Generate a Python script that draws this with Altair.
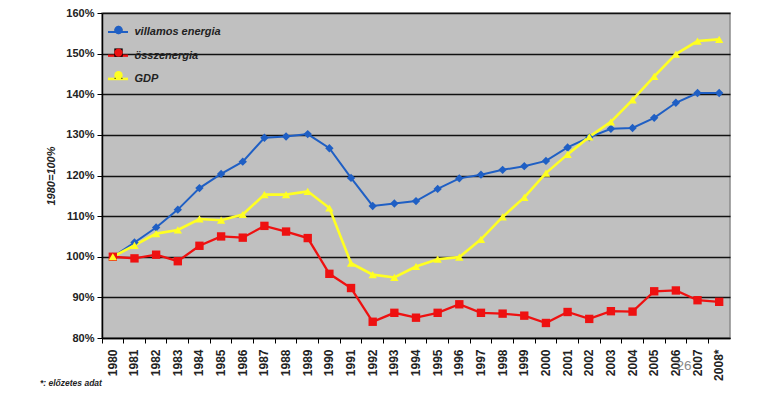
import altair as alt
import pandas as pd

years = ["1980", "1981", "1982", "1983", "1984", "1985", "1986", "1987", "1988", "1989",
         "1990", "1991", "1992", "1993", "1994", "1995", "1996", "1997", "1998", "1999",
         "2000", "2001", "2002", "2003", "2004", "2005", "2006", "2007", "2008*"]

villamos = [100, 103.5, 107.2, 111.6, 116.9, 120.4, 123.4, 129.3, 129.6, 130.2,
            126.7, 119.4, 112.5, 113.1, 113.7, 116.7, 119.3, 120.2, 121.4, 122.3,
            123.6, 126.9, 129.4, 131.5, 131.7, 134.2, 137.9, 140.3, 140.3]
ossz = [100, 99.6, 100.5, 98.9, 102.7, 105.0, 104.7, 107.6, 106.2, 104.6,
        95.8, 92.3, 84.0, 86.2, 85.0, 86.2, 88.3, 86.2, 86.0, 85.5,
        83.7, 86.4, 84.7, 86.6, 86.5, 91.5, 91.7, 89.3, 88.9]
gdp = [100, 102.8, 105.7, 106.6, 109.3, 109.0, 110.4, 115.3, 115.3, 116.1,
       112.0, 98.4, 95.6, 94.9, 97.6, 99.4, 99.9, 104.3, 109.8, 114.6,
       120.6, 125.2, 129.5, 133.2, 138.6, 144.4, 149.9, 153.1, 153.5]

names = ["villamos energia", "összenergia", "GDP"]
colors = ["#1F5FC4", "#EE1111", "#FFFF22"]
shapes = ["diamond", "square", "triangle-up"]
widths = [2, 2.6, 2]
y_ticks = [80, 90, 100, 110, 120, 130, 140, 150, 160]

footnote = "*: előzetes adat"
page_no = "26"

rows = []
for name, vals in zip(names, [villamos, ossz, gdp]):
    for yr, v in zip(years, vals):
        rows.append({"year": yr, "value": v, "series": name, "series_p": name})
df = pd.DataFrame(rows)

FONT = "Liberation Sans"

x_enc = alt.X("year:N", sort=years,
              scale=alt.Scale(type="band", paddingInner=0, paddingOuter=0),
              axis=alt.Axis(title=None, labelAngle=-90, labelFontSize=12, labelFontWeight="bold",
                            labelFont=FONT, labelColor="#222", tickSize=5, labelPadding=6,
                            bandPosition=0, domainColor="#000", tickColor="#000",
                            domainWidth=1.5, grid=False))
y_enc = alt.Y("value:Q", scale=alt.Scale(domain=[80, 160], nice=False, zero=False),
              axis=alt.Axis(values=y_ticks, labelExpr="datum.value + '%'", title="1980=100%",
                            titleFont=FONT, titleFontSize=11, titleFontStyle="italic",
                            titleFontWeight="bold", titleColor="#222", titlePadding=9,
                            labelFont=FONT, labelFontSize=11, labelFontWeight="bold",
                            labelColor="#222", tickSize=5, labelPadding=3,
                            domainColor="#000", domainWidth=1.5, tickColor="#000",
                            grid=True, gridColor="#111", gridWidth=1.5))

base = alt.Chart(df)

lines = base.mark_line().encode(
    x=x_enc, y=y_enc,
    stroke=alt.Stroke("series:N", scale=alt.Scale(domain=names, range=colors),
                      legend=alt.Legend(title=None, orient="none", legendX=4.5, legendY=8,
                                        symbolType="stroke", symbolSize=400,
                                        symbolStrokeWidth=2.5, labelFont=FONT,
                                        labelFontSize=11, labelFontStyle="italic",
                                        labelFontWeight="bold", labelColor="#222",
                                        labelOffset=5, rowPadding=6.2, padding=0,
                                        gridAlign="all")),
    strokeWidth=alt.StrokeWidth("series:N", scale=alt.Scale(domain=names, range=widths),
                                legend=None),
    order=alt.Order("series:N"),
)

pts_legend = alt.Legend(title=None, orient="none", legendX=11.5, legendY=12,
                        symbolSize=70, symbolStrokeWidth=0, labelExpr="''",
                        labelOffset=5, rowPadding=12.6, padding=0, gridAlign="all")

points = base.mark_point(filled=True, size=70, opacity=1, strokeWidth=0).encode(
    x=x_enc, y=y_enc,
    fill=alt.Fill("series_p:N", sort=names, scale=alt.Scale(range=colors), legend=pts_legend),
    shape=alt.Shape("series_p:N", sort=names, scale=alt.Scale(range=shapes), legend=pts_legend),
)

note = alt.Chart(pd.DataFrame({"t": [footnote]})).mark_text(
    align="left", baseline="alphabetic", font=FONT, fontSize=8.5, fontStyle="italic",
    fontWeight="bold", color="#222"
).encode(x=alt.value(-62), y=alt.value(373), text="t:N")

page = alt.Chart(pd.DataFrame({"t": [page_no]})).mark_text(
    align="center", baseline="alphabetic", font=FONT, fontSize=13.5, color="#8a8a8a"
).encode(x=alt.value(582), y=alt.value(357), text="t:N")

chart = alt.layer(lines, points, note, page).properties(
    width=628, height=325,
    autosize=alt.AutoSizeParams(type="none"),
    padding={"left": 94, "top": 5, "right": 30, "bottom": 49},
    background="white",
).configure_view(fill="#C0C0C0", stroke="#8a8a8a", strokeWidth=1.5)

chart.save("out.html", embed_options={"renderer": "svg", "actions": False})
